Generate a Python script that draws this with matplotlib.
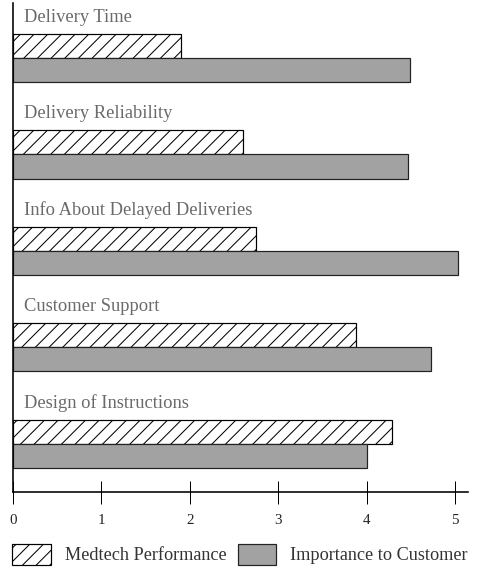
import numpy as np
import matplotlib
matplotlib.use("Agg")
import matplotlib.pyplot as plt

# Ratings per delivery attribute (scale 0-5)
attributes = [
    "Delivery Time",
    "Delivery Reliability",
    "Info About Delayed Deliveries",
    "Customer Support",
    "Design of Instructions",
]
medtech_performance = [1.90, 2.60, 2.75, 3.88, 4.29]
importance_to_customer = [4.49, 4.47, 5.03, 4.73, 4.00]
tick_values = [0, 1, 2, 3, 4, 5]

DPI = 82
PT = 72 / DPI  # pixels -> points

plt.rcParams["font.family"] = ["Liberation Serif", "DejaVu Serif"]
plt.rcParams["hatch.linewidth"] = 0.9
plt.rcParams["axes.linewidth"] = 1.6 * PT

fig = plt.figure(figsize=(477 / DPI, 567 / DPI), dpi=DPI)
ax = fig.add_axes([13 / 477, 1 - 492 / 567, 455 / 477, 489 / 567])

y = np.arange(len(attributes))
bar_h = 0.25
hatched = ax.barh(y - bar_h / 2, medtech_performance, height=bar_h,
                  color="white", edgecolor="black", hatch="//",
                  linewidth=1.2 * PT, label="Medtech Performance")
solid = ax.barh(y + bar_h / 2, importance_to_customer, height=bar_h,
                color="#a2a2a2", edgecolor="#222222",
                linewidth=1.2 * PT, label="Importance to Customer")

for yi, name in zip(y, attributes):
    ax.text(0.12, yi - 0.42, name, va="center", ha="left",
            fontsize=18.5 * PT, color="#6a6a6a")

ax.set_xlim(0, 455 / 88.4)
ax.set_ylim(4.50, -0.57)
ax.set_xticks(tick_values)
ax.set_xticklabels([str(v) for v in tick_values])
ax.set_yticks([])
ax.tick_params(axis="x", direction="inout", length=23 * PT, width=1.0 * PT,
               pad=10 * PT, labelsize=15 * PT, labelcolor="#222222")
ax.spines["top"].set_visible(False)
ax.spines["right"].set_visible(False)

fig.legend(handles=[hatched, solid], loc="lower left",
           bbox_to_anchor=(-4 / 477, -14 / 567), ncol=2, frameon=False,
           prop={"size": 18.2 * PT}, labelcolor="#333333",
           handlelength=2.1, handleheight=1.37, handletextpad=0.77,
           columnspacing=0.66)

fig.savefig("out.png", dpi=DPI)
